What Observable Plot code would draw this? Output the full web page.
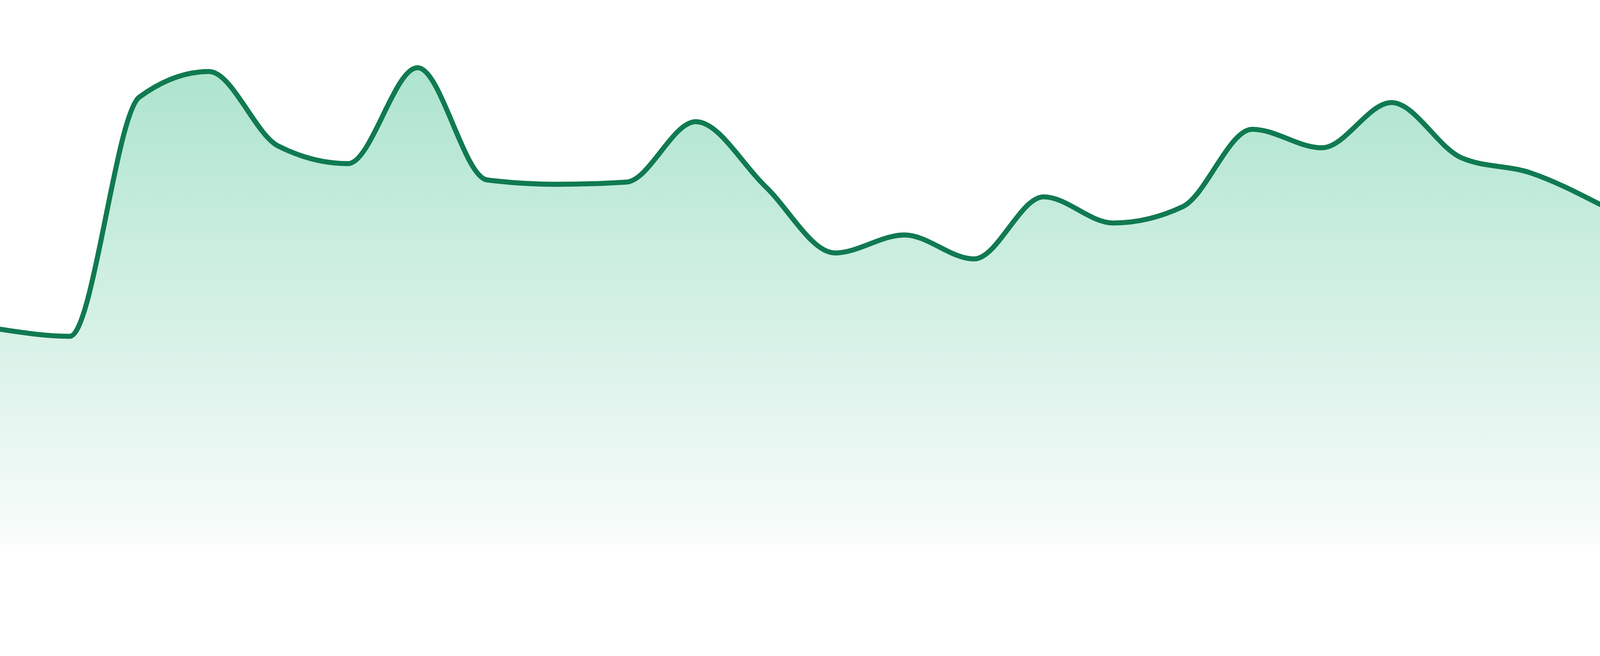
<!DOCTYPE html>
<html>
<head>
<meta charset="utf-8">
<script src="https://cdn.jsdelivr.net/npm/d3@7"></script>
<script src="https://cdn.jsdelivr.net/npm/@observablehq/plot@0.6"></script>
<style>
  html, body { margin: 0; padding: 0; background: #ffffff; }
  #chart svg { display: block; }
</style>
</head>
<body>
<div id="chart"></div>
<script>
// Point index along the x axis (evenly spaced, edge to edge)
const periods = [1, 2, 3, 4, 5, 6, 7, 8, 9, 10, 11, 12, 13, 14, 15, 16, 17, 18, 19, 20, 21, 22, 23, 24];
// Values (0–100 scale)
const values = [39.6, 38.3, 82.2, 86.9, 73.2, 70.0, 87.6, 67.0, 66.2, 66.6, 77.7, 65.8,
                53.6, 56.9, 52.5, 63.9, 59.1, 62.1, 76.3, 72.9, 81.2, 71.1, 68.3, 62.5];

const lineColor = "#107a50";
const gradTop = "#ade4ce";
const gradBottom = "#f9fcfb";

const data = periods.map((p, i) => ({period: p, value: values[i]}));

const defs = () => {
  const d = d3.create("svg:defs");
  const g = d.append("linearGradient")
    .attr("id", "areaGrad")
    .attr("x1", 0).attr("y1", 0).attr("x2", 0).attr("y2", 1);
  g.append("stop").attr("offset", "0%").attr("stop-color", gradTop);
  g.append("stop").attr("offset", "100%").attr("stop-color", gradBottom);
  return d.node();
};

const chart = Plot.plot({
  width: 4800,
  height: 1680,
  marginTop: 0,
  marginRight: 0,
  marginBottom: 45,
  marginLeft: 0,
  x: {domain: [periods[0], periods[periods.length - 1]], axis: null},
  y: {domain: [0, 100], axis: null},
  marks: [
    defs,
    Plot.areaY(data, {x: "period", y: "value", fill: "url(#areaGrad)", curve: "monotone-x"}),
    Plot.lineY(data, {x: "period", y: "value", stroke: lineColor, strokeWidth: 15, curve: "monotone-x"})
  ]
});

document.getElementById("chart").appendChild(chart);
</script>
</body>
</html>
